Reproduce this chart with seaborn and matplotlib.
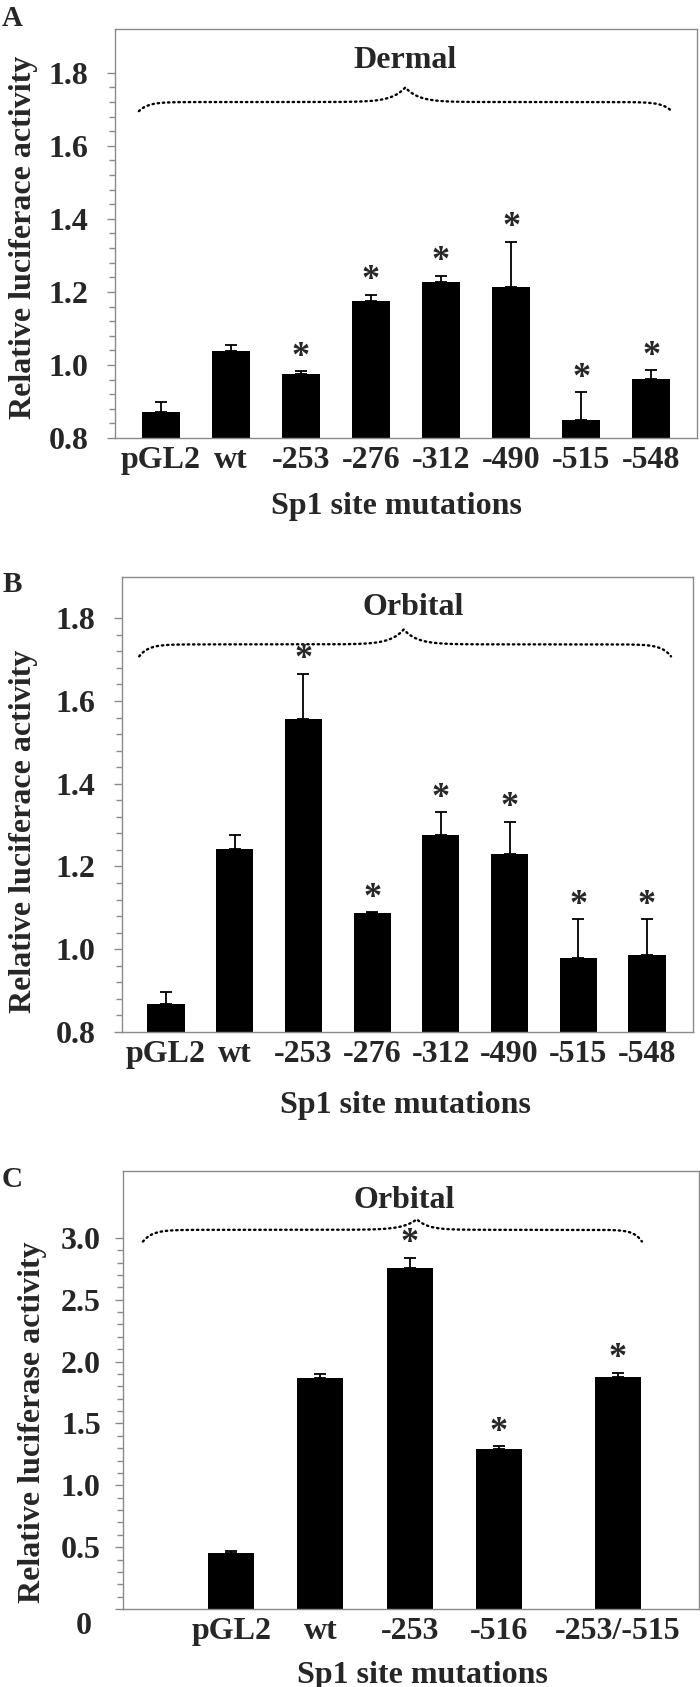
"""
Sp1 site mutation luciferase assays (panels A-C)
"""

import matplotlib
matplotlib.use('Agg')
import matplotlib.pyplot as plt
import matplotlib.transforms as mtransforms
from matplotlib.ticker import FixedLocator
import seaborn as sns
import numpy as np

# ---- data -------------------------------------------------------------
a_labels = ['pGL2', 'wt', '-253', '-276', '-312', '-490', '-515', '-548']
a_mean = [0.871, 1.037, 0.974, 1.176, 1.227, 1.213, 0.849, 0.961]
a_err = [0.028, 0.018, 0.008, 0.016, 0.017, 0.124, 0.076, 0.025]
a_sig = [False, False, True, True, True, True, True, True]

b_labels = ['pGL2', 'wt', '-253', '-276', '-312', '-490', '-515', '-548']
b_mean = [0.868, 1.243, 1.556, 1.087, 1.275, 1.229, 0.979, 0.986]
b_err = [0.028, 0.034, 0.110, 0.003, 0.056, 0.079, 0.093, 0.086]
b_sig = [False, False, True, True, True, True, True, True]

c_labels = ['pGL2', 'wt', '-253', '-516', '-253/-515']
c_mean = [0.451, 1.866, 2.754, 1.295, 1.875]
c_err = [0.018, 0.030, 0.085, 0.020, 0.035]
c_sig = [False, False, True, True, True]

sns.set_style('ticks')
plt.rcParams['font.family'] = ['Liberation Serif', 'DejaVu Serif']
plt.rcParams['font.weight'] = 'bold'

GREY = '#8a8a8a'
FS = 23


def draw_brace(ax, x0, x1, xm, y_end, y_line, y_peak):
    """dotted curly brace spanning x0..x1 with its tip at xm"""
    u = np.linspace(0, 1, 300)
    left_x = x0 + (xm - x0) * u
    left_y = (y_line + (y_end - y_line) * np.exp(-u / 0.035)
              + (y_peak - y_line) * np.exp(-(1 - u) / 0.05))
    right_x = x1 - (x1 - xm) * u
    xs = np.concatenate([left_x, right_x[::-1]])
    ys = np.concatenate([left_y, left_y[::-1]])
    ax.plot(xs, ys, color='black', lw=1.7, linestyle=(0, (0.6, 1.6)),
            dash_capstyle='round', clip_on=False)


def bar_panel(ax, labels, mean, err, sig, width, order=None):
    if order is None:
        order = labels
    sns.barplot(x=labels, y=mean, order=order, color='black', width=width,
                edgecolor='black', linewidth=0, errorbar=None, ax=ax,
                saturation=1)
    pos = np.array([order.index(lab) for lab in labels])
    ax.errorbar(pos, mean, yerr=[np.zeros(len(err)), err], fmt='none',
                ecolor='black', elinewidth=1.3, capsize=4, capthick=1.3)
    for i in range(len(labels)):
        if sig[i]:
            ax.annotate('*', xy=(pos[i], mean[i] + err[i]), xytext=(0, 10),
                        textcoords='offset points', ha='center', va='center',
                        fontsize=26, fontweight='bold')
    ax.set_xticks(pos)
    ax.set_xticklabels(labels)
    for s in ax.spines.values():
        s.set_visible(True)
        s.set_color(GREY)
        s.set_linewidth(1.0)
    ax.tick_params(axis='y', which='major', length=6, width=1, color=GREY,
                   labelsize=FS, pad=13)
    ax.tick_params(axis='y', which='minor', length=4.5, width=1, color=GREY)
    ax.tick_params(axis='x', length=0, labelsize=FS, pad=6)
    ax.set_xlabel('Sp1 site mutations', fontsize=FS, fontweight='bold')


fig = plt.figure(figsize=(7, 16.87), dpi=100)

# ---- panel A ----
ax_a = fig.add_axes([0.1643, 0.7404, 0.8314, 0.2424])
bar_panel(ax_a, a_labels, a_mean, a_err, a_sig, 0.54)
ax_a.set_xlim(-0.65, 7.65)
ax_a.set_ylim(0.8, 1.92)
ax_a.yaxis.set_major_locator(FixedLocator([0.8, 1.0, 1.2, 1.4, 1.6, 1.8]))
ax_a.yaxis.set_minor_locator(FixedLocator(np.arange(0.84, 1.8, 0.04)))
ax_a.set_yticklabels(['0.8', '1.0', '1.2', '1.4', '1.6', '1.8'])
ax_a.set_ylabel('Relative luciferace activity', fontsize=FS, fontweight='bold')
ax_a.yaxis.set_label_coords(-0.133, 0.49)
ax_a.xaxis.set_label_coords(0.483, -0.132)
draw_brace(ax_a, -0.31, 7.29, 3.49, 1.695, 1.72, 1.76)
ax_a.text(3.49, 1.833, 'Dermal', ha='center', va='center', fontsize=FS,
          fontweight='bold')

# ---- panel B ----
ax_b = fig.add_axes([0.1743, 0.3883, 0.8157, 0.2697])
bar_panel(ax_b, b_labels, b_mean, b_err, b_sig, 0.54)
ax_b.set_xlim(-0.64, 7.67)
ax_b.set_ylim(0.8, 1.9)
ax_b.yaxis.set_major_locator(FixedLocator([0.8, 1.0, 1.2, 1.4, 1.6, 1.8]))
ax_b.yaxis.set_minor_locator(FixedLocator(np.arange(0.84, 1.8, 0.04)))
ax_b.set_yticklabels(['0.8', '1.0', '1.2', '1.4', '1.6', '1.8'])
ax_b.set_ylabel('Relative luciferace activity', fontsize=FS, fontweight='bold')
ax_b.yaxis.set_label_coords(-0.148, 0.44)
ax_b.xaxis.set_label_coords(0.497, -0.13)
draw_brace(ax_b, -0.39, 7.35, 3.46, 1.708, 1.737, 1.773)
ax_b.text(3.6, 1.826, 'Orbital', ha='center', va='center', fontsize=FS,
          fontweight='bold')

# ---- panel C ----
# empty spacer slots on the categorical axis reproduce the uneven spacing
c_order = []
for i, lab in enumerate(c_labels):
    c_order.append(lab)
    if i < len(c_labels) - 1:
        n_gap = 3 if i == len(c_labels) - 2 else 2
        c_order += ['_gap%d_%d' % (i, k) for k in range(n_gap)]

ax_c = fig.add_axes([0.1757, 0.04624, 0.8229, 0.2596])
bar_panel(ax_c, c_labels, c_mean, c_err, c_sig, 1.55, order=c_order)
ax_c.set_xlim(-3.64, 15.73)
ax_c.set_ylim(0, 3.54)
ax_c.yaxis.set_major_locator(FixedLocator([0, 0.5, 1.0, 1.5, 2.0, 2.5, 3.0]))
ax_c.yaxis.set_minor_locator(FixedLocator(np.arange(0.1, 3.0, 0.1)))
ax_c.set_yticklabels(['0', '0.5', '1.0', '1.5', '2.0', '2.5', '3.0'])
ax_c.tick_params(axis='y', which='major', pad=10)
ax_c.set_ylabel('Relative luciferase activity', fontsize=FS, fontweight='bold')
ax_c.yaxis.set_label_coords(-0.132, 0.427)
ax_c.xaxis.set_label_coords(0.52, -0.118)
draw_brace(ax_c, -2.97, 13.81, 6.24, 2.97, 3.065, 3.15)
ax_c.text(5.83, 3.30, 'Orbital', ha='center', va='center', fontsize=FS,
          fontweight='bold')
zero_lbl = ax_c.get_yticklabels()[0]
zero_lbl.set_transform(zero_lbl.get_transform()
                       + mtransforms.ScaledTranslation(-0.09, -0.14,
                                                       fig.dpi_scale_trans))

# panel letters
fig.text(0.003, 1 - 5 / 1687, 'A', ha='left', va='top', fontsize=21,
         fontweight='bold')
fig.text(0.003, 1 - 571 / 1687, 'B', ha='left', va='top', fontsize=21,
         fontweight='bold')
fig.text(0.003, 1 - 1166 / 1687, 'C', ha='left', va='top', fontsize=21,
         fontweight='bold')

fig.savefig('out.png', dpi=100)
